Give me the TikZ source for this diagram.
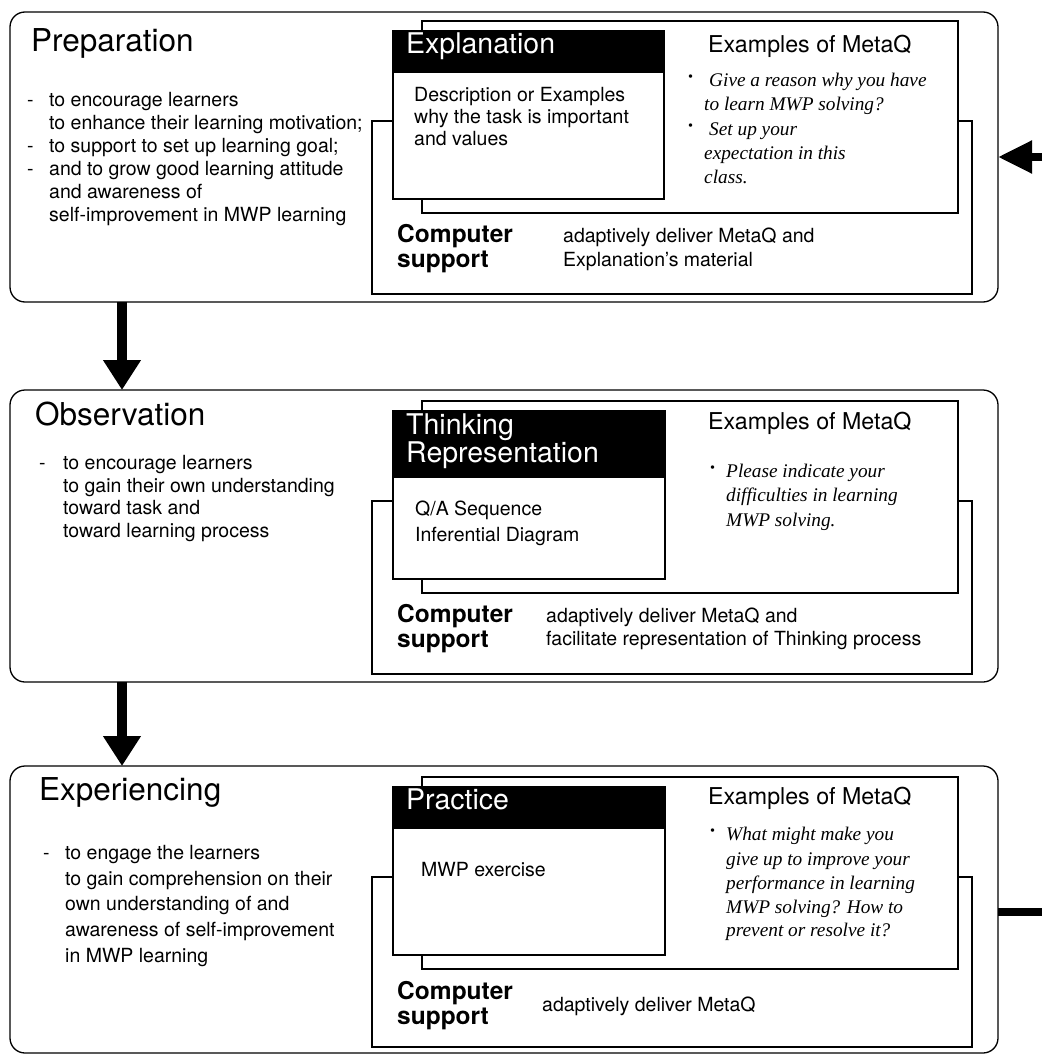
\documentclass[tikz,border=0pt]{standalone}
\usepackage{fontspec}
\setmainfont{TeX Gyre Heros}
\newfontfamily\serifit{Liberation Serif}
\usetikzlibrary{arrows.meta}
\begin{document}
\begin{tikzpicture}[x=1pt,y=-1pt,
  stage/.style={draw, line width=1.3pt, rounded corners=15pt, inner sep=0pt, outer sep=0pt, fill=white, anchor=north west},
  panel/.style={draw, line width=1.3pt, inner sep=0pt, outer sep=0pt, fill=white, anchor=north west},
  hdrbox/.style={draw, fill=black, line width=1.3pt, inner sep=0pt, outer sep=0pt, anchor=north west},
  ttl/.style={anchor=mid west, inner sep=0pt, font=\fontsize{31.5}{31}\selectfont},
  bt/.style={anchor=mid west, inner sep=0pt, font=\fontsize{19.5}{23}\selectfont},
  hd/.style={anchor=mid west, inner sep=0pt, text=white, font=\fontsize{28.5}{28}\selectfont},
  exq/.style={anchor=mid west, inner sep=0pt, font=\fontsize{23.2}{24}\selectfont},
  itx/.style={anchor=mid west, inner sep=0pt, font=\serifit\itshape\fontsize{19.3}{24}\selectfont},
  bul/.style={anchor=mid west, inner sep=0pt, font=\serifit\bfseries\fontsize{21}{24}\selectfont},
  cs/.style={anchor=mid west, inner sep=0pt, font=\bfseries\fontsize{24.5}{25}\selectfont},
  flow/.style={line width=10pt, -{Triangle[width=36pt,length=30pt]}},
  loopline/.style={line width=8pt},
  looparrow/.style={line width=8pt, -{Triangle[width=31pt,length=34pt]}}]
\useasboundingbox (0,0) rectangle (1042,1054);
\fill[white] (0,0) rectangle (1042,1054);

% ---------- Stage boxes ----------
\node[stage, minimum width=988, minimum height=290] (prep) at (10,12) {};
\node[stage, minimum width=988, minimum height=292] (obs) at (10,390) {};
\node[stage, minimum width=988, minimum height=287] (expr) at (10,766) {};

% ---------- Preparation panels ----------
\node[panel, minimum width=600, minimum height=173] (cs1) at (372,121) {};
\node[panel, minimum width=536, minimum height=192] (ex1) at (422,21) {};
\node[panel, minimum width=271, minimum height=168] (pb1) at (393,31) {};
\node[hdrbox, minimum width=271, minimum height=41] (hb1) at (393,31) {};

% ---------- Observation panels ----------
\node[panel, minimum width=600, minimum height=173] (cs2) at (372,501) {};
\node[panel, minimum width=536, minimum height=192] (ex2) at (422,401) {};
\node[panel, minimum width=272, minimum height=168] (pb2) at (393,411) {};
\node[hdrbox, minimum width=272, minimum height=66] (hb2) at (393,411) {};

% ---------- Experiencing panels ----------
\node[panel, minimum width=600, minimum height=170] (cs3) at (372,877) {};
\node[panel, minimum width=536, minimum height=192] (ex3) at (422,777) {};
\node[panel, minimum width=272, minimum height=168] (pb3) at (393,787) {};
\node[hdrbox, minimum width=272, minimum height=41] (hb3) at (393,787) {};

% ---------- Connectors ----------
\coordinate (ax) at (122,0);
\coordinate (loopTop) at (1042,157);
\coordinate (loopBot) at (1042,912);
\draw[flow] (prep.south -| ax) -- (obs.north -| ax);
\draw[flow] (obs.south -| ax) -- (expr.north -| ax);
\draw[looparrow] (loopTop) -- (prep.east |- loopTop);
\draw[loopline] (expr.east |- loopBot) -- (loopBot);

% ---------- Preparation texts ----------
\node[ttl] (t1) at (31,49) {Preparation};
\node[bt] (d1a) at (27,104) {-};
\node[bt] (p1a) at (49,104) {to encourage learners};
\node[bt] (p1b) at (49,127) {to enhance their learning motivation;};
\node[bt] (d1b) at (27,150) {-};
\node[bt] (p1c) at (49,150) {to support to set up learning goal;};
\node[bt] (d1c) at (27,173) {-};
\node[bt] (p1d) at (49,173) {and to grow good learning attitude};
\node[bt] (p1e) at (49,196) {and awareness of};
\node[bt] (p1f) at (49,219) {self-improvement in MWP learning};

\node[hd] (h1) at (406,51) {Explanation};
\node[bt] (b1a) at (414,99) {Description or Examples};
\node[bt] (b1b) at (414,121) {why the task is important};
\node[bt] (b1c) at (414,143) {and values};

\node[exq] (e1) at (708,50) {Examples of MetaQ};
\node[bul] (k1a) at (687,81) {·};
\node[itx] (q1a) at (709,84) {Give a reason why you have};
\node[itx] (q1b) at (704,108) {to learn MWP solving?};
\node[bul] (k1b) at (687,130) {·};
\node[itx] (q1c) at (709,133) {Set up your};
\node[itx] (q1d) at (704,157) {expectation in this};
\node[itx] (q1e) at (704,181) {class.};

\node[cs] (c1a) at (397,240) {Computer};
\node[cs] (c1b) at (397,265) {support};
\node[bt] (s1a) at (563,240) {adaptively deliver MetaQ and};
\node[bt] (s1b) at (563,264) {Explanation’s material};

% ---------- Observation texts ----------
\node[ttl] (t2) at (35,423) {Observation};
\node[bt] (d2a) at (39,467) {-};
\node[bt] (p2a) at (63,467) {to encourage learners};
\node[bt] (p2b) at (63,490) {to gain their own understanding};
\node[bt] (p2c) at (63,512) {toward task and};
\node[bt] (p2d) at (63,535) {toward learning process};

\node[hd] (h2a) at (406,432) {Thinking};
\node[hd] (h2b) at (406,460) {Representation};
\node[bt] (b2a) at (415,513) {Q/A Sequence};
\node[bt] (b2b) at (415,539) {Inferential Diagram};

\node[exq] (e2) at (708,427) {Examples of MetaQ};
\node[bul] (k2a) at (709,472) {·};
\node[itx] (q2a) at (726,475) {Please indicate your};
\node[itx] (q2b) at (726,499) {difficulties in learning};
\node[itx] (q2c) at (726,524) {MWP solving.};

\node[cs] (c2a) at (397,620) {Computer};
\node[cs] (c2b) at (397,645) {support};
\node[bt] (s2a) at (546,620) {adaptively deliver MetaQ and};
\node[bt] (s2b) at (546,643) {facilitate representation of Thinking process};

% ---------- Experiencing texts ----------
\node[ttl] (t3) at (39,798) {Experiencing};
\node[bt] (d3a) at (43,857) {-};
\node[bt] (p3a) at (65,857) {to engage the learners};
\node[bt] (p3b) at (65,883) {to gain comprehension on their};
\node[bt] (p3c) at (65,908) {own understanding of and};
\node[bt] (p3d) at (65,934) {awareness of self-improvement};
\node[bt] (p3e) at (65,960) {in MWP learning};

\node[hd] (h3) at (406,807) {Practice};
\node[bt] (b3a) at (421,874) {MWP exercise};

\node[exq] (e3) at (708,802) {Examples of MetaQ};
\node[bul] (k3a) at (709,835) {·};
\node[itx] (q3a) at (726,838) {What might make you};
\node[itx] (q3b) at (726,863) {give up to improve your};
\node[itx] (q3c) at (726,887) {performance in learning};
\node[itx] (q3d) at (726,911) {MWP solving? How to};
\node[itx] (q3e) at (726,934) {prevent or resolve it?};

\node[cs] (c3a) at (397,997) {Computer};
\node[cs] (c3b) at (397,1022) {support};
\node[bt] (s3a) at (542,1009) {adaptively deliver MetaQ};
\end{tikzpicture}
\end{document}
